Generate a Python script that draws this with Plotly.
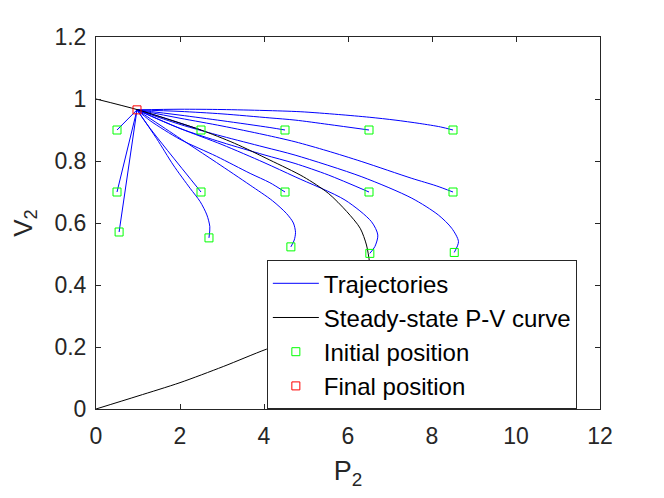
import plotly.graph_objects as go

# ---- data ----
final_P = [0.976]
final_V = [0.965]

init_P = [0.5, 2.5, 4.5, 6.5, 8.5, 0.5, 2.5, 4.5, 6.5, 8.5, 0.55, 2.69, 4.64, 6.52, 8.53]
init_V = [0.9, 0.9, 0.9, 0.9, 0.9, 0.7, 0.7, 0.7, 0.7, 0.7, 0.571, 0.552, 0.523, 0.502, 0.505]

# trajectories (from initial position to final position)
traj_P = [
    [0.5, 0.976],
    [2.5, 1.7, 0.976],
    [4.5, 4.14, 3.0, 2.0, 0.976],
    [6.5, 5.53, 4.74, 4.14, 3.0, 2.0, 0.976],
    [8.5, 8.2, 7.71, 7.12, 6.52, 5.77, 4.86, 4.0, 3.0, 2.0, 0.976],
    [0.5, 0.976],
    [2.5, 1.29, 0.976],
    [4.5, 4.14, 3.67, 2.87, 2.0, 1.29, 0.976],
    [6.5, 5.53, 4.74, 4.0, 3.0, 2.0, 0.976],
    [8.5, 8.1, 7.52, 6.33, 5.5, 4.74, 4.0, 3.0, 2.0, 0.976],
    [0.55, 0.976],
    [2.69, 2.71, 2.64, 2.48, 2.24, 1.84, 1.44, 0.976],
    [4.64, 4.72, 4.75, 4.7, 4.54, 4.2, 3.67, 2.87, 2.2, 1.5, 0.976],
    [6.52, 6.64, 6.71, 6.56, 5.93, 4.74, 4.0, 3.0, 2.0, 0.976],
    [8.53, 8.63, 8.47, 8.15, 7.52, 6.33, 4.74, 4.0, 3.0, 2.0, 0.976],
]
traj_V = [
    [0.9, 0.965],
    [0.9, 0.936, 0.965],
    [0.9, 0.908, 0.93, 0.948, 0.965],
    [0.9, 0.918, 0.932, 0.939, 0.952, 0.96, 0.965],
    [0.9, 0.91, 0.921, 0.932, 0.941, 0.950, 0.959, 0.963, 0.966, 0.967, 0.965],
    [0.7, 0.965],
    [0.7, 0.905, 0.965],
    [0.7, 0.73, 0.76, 0.815, 0.87, 0.93, 0.965],
    [0.7, 0.755, 0.792, 0.82, 0.86, 0.905, 0.965],
    [0.7, 0.72, 0.744, 0.798, 0.833, 0.862, 0.885, 0.913, 0.938, 0.965],
    [0.571, 0.965],
    [0.552, 0.588, 0.626, 0.669, 0.712, 0.787, 0.873, 0.965],
    [0.523, 0.545, 0.57, 0.60, 0.63, 0.672, 0.722, 0.795, 0.855, 0.918, 0.965],
    [0.502, 0.524, 0.561, 0.604, 0.674, 0.749, 0.795, 0.853, 0.905, 0.965],
    [0.505, 0.54, 0.583, 0.626, 0.68, 0.749, 0.819, 0.845, 0.88, 0.918, 0.965],
]

# steady-state P-V curve (upper branch, nose, lower branch)
pv_P = [0, 1, 2, 2.5, 3.3, 4.14, 4.94, 5.53, 5.97, 6.29, 6.44, 6.51, 6.52,
        6.48, 6.3, 5.7, 5.0, 4.06, 3.03, 2.0, 1.0, 0.0]
pv_V = [1.0, 0.965, 0.922, 0.9, 0.857, 0.803, 0.749, 0.696, 0.637, 0.583, 0.529, 0.475, 0.45,
        0.39, 0.33, 0.275, 0.235, 0.193, 0.137, 0.085, 0.042, 0.0]

x_ticks = [0, 2, 4, 6, 8, 10, 12]
y_ticks = [0, 0.2, 0.4, 0.6, 0.8, 1.0, 1.2]
y_tick_text = ["0", "0.2", "0.4", "0.6", "0.8", "1", "1.2"]

FONT = "Liberation Sans, Arial, Helvetica, sans-serif"
AX = "#262626"

fig = go.Figure()
for i, (p, v) in enumerate(zip(traj_P, traj_V)):
    fig.add_trace(go.Scatter(
        x=p, y=v, mode="lines", name="Trajectories",
        line=dict(color="#0000FF", width=1, shape="spline", smoothing=0.8),
        legendgroup="traj", showlegend=(i == 0), hoverinfo="skip"))

fig.add_trace(go.Scatter(
    x=pv_P, y=pv_V, mode="lines", name="Steady-state P-V curve",
    line=dict(color="#000000", width=1, shape="spline", smoothing=0.8)))

fig.add_trace(go.Scatter(
    x=init_P, y=init_V, mode="markers", name="Initial position",
    marker=dict(symbol="square-open", size=8, color="#00FF00", line=dict(width=1, color="#00FF00"))))

fig.add_trace(go.Scatter(
    x=final_P, y=final_V, mode="markers", name="Final position",
    marker=dict(symbol="square-open", size=8, color="#FF0000", line=dict(width=1, color="#FF0000"))))

axis_common = dict(
    showgrid=False, zeroline=False, showline=True, linecolor=AX, linewidth=1,
    mirror="ticks", ticks="inside", ticklen=5, tickwidth=1, tickcolor=AX,
    tickfont=dict(family=FONT, size=23, color=AX), automargin=False,
)

# the page body adds an 8px offset, so the figure is sized to fit the window
fig.update_layout(
    width=648, height=482,
    margin=dict(l=88, r=56, t=29, b=81),
    paper_bgcolor="white", plot_bgcolor="white",
    font=dict(family=FONT, color=AX),
    xaxis=dict(range=[0, 12], tickvals=x_ticks, ticktext=[str(t) for t in x_ticks],
               title=dict(text="P<sub>2</sub>", font=dict(family=FONT, size=27, color=AX), standoff=14),
               ticklabelstandoff=6, **axis_common),
    yaxis=dict(range=[0, 1.2], tickvals=y_ticks, ticktext=y_tick_text,
               title=dict(text="V<sub>2</sub>", font=dict(family=FONT, size=26, color=AX), standoff=18),
               ticklabelstandoff=4, **axis_common),
    legend=dict(x=0.339, y=0.40, xanchor="left", yanchor="top",
                bgcolor="white", bordercolor=AX, borderwidth=1,
                font=dict(family=FONT, size=24, color="#000000"),
                itemwidth=46, tracegroupgap=0),
    showlegend=True,
)

fig.write_html("out.html")
